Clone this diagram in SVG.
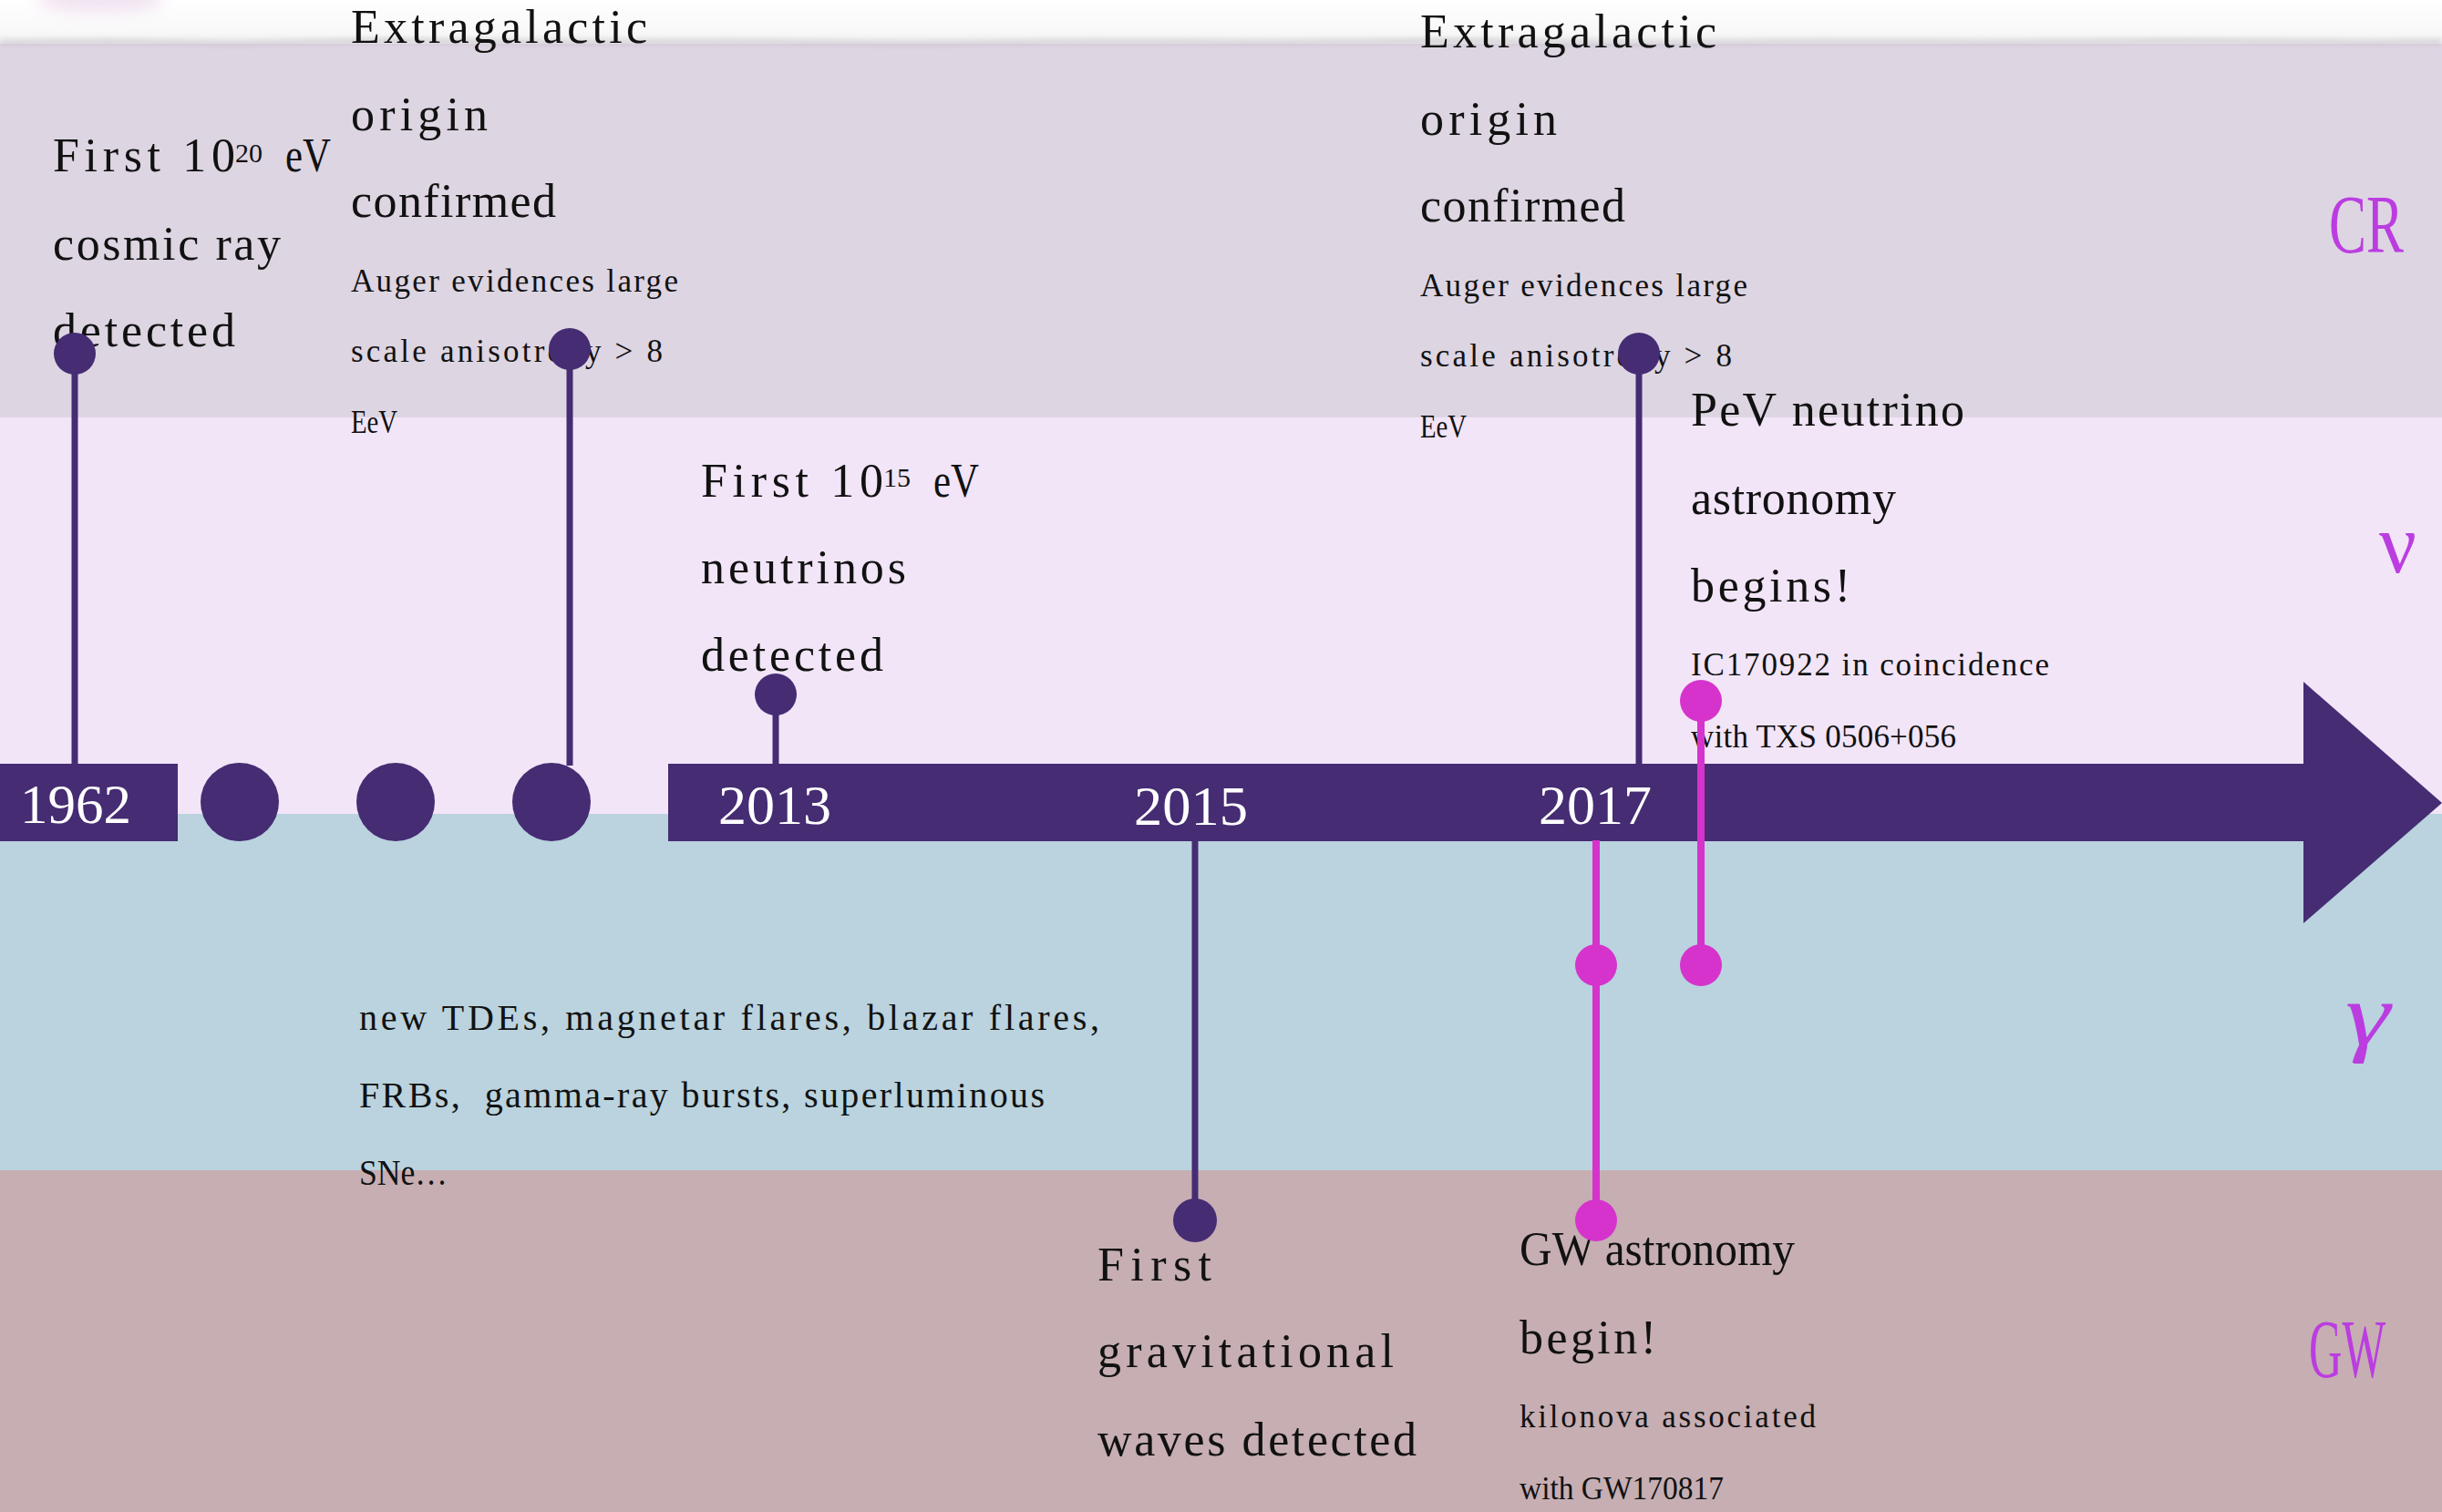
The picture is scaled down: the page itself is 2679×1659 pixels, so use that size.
<svg xmlns="http://www.w3.org/2000/svg" width="2679" height="1659" viewBox="0 0 2679 1659">
<defs>
<linearGradient id="topG" x1="0" y1="0" x2="0" y2="1">
<stop offset="0" stop-color="#ffffff"/>
<stop offset="0.7" stop-color="#f8f8f8"/>
<stop offset="1" stop-color="#ececec"/>
</linearGradient>
<filter id="blur3" x="-20%" y="-200%" width="140%" height="500%"><feGaussianBlur stdDeviation="3"/></filter>
<filter id="blur8" x="-50%" y="-200%" width="200%" height="500%"><feGaussianBlur stdDeviation="8"/></filter>
<style>
.t{font-family:"Liberation Serif","Times New Roman",serif;fill:#111;}
.big{font-size:52px;}
.mid{font-size:40px;}
.sm{font-size:35px;}
.sup{font-size:30px;}
.yr{font-family:"Liberation Serif","Times New Roman",serif;font-size:62px;fill:#ffffff;}
.band{font-family:"Liberation Serif","Times New Roman",serif;fill:#bb3de0;}
.bar{fill:#452c73;}
.pl{stroke:#452c73;stroke-width:7;fill:none;}
.ml{stroke:#d633cc;stroke-width:8;fill:none;}
.pb{fill:#452c73;}
.mb{fill:#d633cc;}
</style>
</defs>

<g id="background">
<rect x="0" y="0" width="2679" height="50" fill="url(#topG)"/>
<ellipse cx="110" cy="0" rx="70" ry="14" fill="#ecd8ec" opacity="0.7" filter="url(#blur8)"/>
<rect x="0" y="48" width="2679" height="410" fill="#ddd5e2"/>
<path d="M0 47 L120 46 L260 48 L420 45 L600 47 L800 46 L1000 48 L1200 46 L1400 47 L1600 45 L1800 48 L2000 46 L2200 47 L2400 45 L2600 47 L2679 46" stroke="#cbc4cd" stroke-width="4" fill="none" filter="url(#blur3)"/>
<rect x="0" y="458" width="2679" height="435" fill="#f2e5f7"/>
<rect x="0" y="893" width="2679" height="391" fill="#bad3df"/>
<rect x="0" y="1284" width="2679" height="375" fill="#c6aeb3"/>
</g>

<g id="band-labels">
<text class="band" x="2555" y="277" font-size="90" textLength="82" lengthAdjust="spacingAndGlyphs">CR</text>
<text class="band" x="2610" y="628" font-size="94" textLength="41" lengthAdjust="spacingAndGlyphs">ν</text>
<text class="band" x="2573" y="1146" font-size="98" font-style="italic" textLength="49" lengthAdjust="spacingAndGlyphs">γ</text>
<text class="band" x="2533" y="1511" font-size="90" textLength="84" lengthAdjust="spacingAndGlyphs">GW</text>
</g>

<g id="timeline">
<rect class="bar" x="0" y="838" width="195" height="85"/>
<circle class="bar" cx="263" cy="880" r="43"/>
<circle class="bar" cx="434" cy="880" r="43"/>
<circle class="bar" cx="605" cy="880" r="43"/>
<rect class="bar" x="733" y="838" width="1796" height="85"/>
<polygon class="bar" points="2527,748 2679,881 2527,1013"/>
<text class="yr" x="22" y="903" textLength="122" lengthAdjust="spacingAndGlyphs">1962</text>
<text class="yr" x="788" y="904" textLength="124" lengthAdjust="spacingAndGlyphs">2013</text>
<text class="yr" x="1244" y="905" textLength="125" lengthAdjust="spacingAndGlyphs">2015</text>
<text class="yr" x="1688" y="904" textLength="124" lengthAdjust="spacingAndGlyphs">2017</text>
</g>

<g id="event-1962-cr">
<text class="t big" x="58" y="188" textLength="200" lengthAdjust="spacing">First 10</text>
<text class="t sup" x="258" y="178" textLength="30" lengthAdjust="spacing">20</text>
<text class="t big" x="313" y="188" textLength="50" lengthAdjust="spacingAndGlyphs">eV</text>
<text class="t big" x="58" y="285" textLength="250" lengthAdjust="spacing">cosmic ray</text>
<text class="t big" x="58" y="380" textLength="200" lengthAdjust="spacing">detected</text>
</g>

<g id="event-auger-1">
<text class="t big" x="385" y="47" textLength="325" lengthAdjust="spacing">Extragalactic</text>
<text class="t big" x="385" y="143" textLength="150" lengthAdjust="spacing">origin</text>
<text class="t big" x="385" y="238" textLength="225" lengthAdjust="spacing">confirmed</text>
<text class="t sm" x="385" y="320" textLength="359" lengthAdjust="spacing">Auger evidences large</text>
<text class="t sm" x="385" y="397" textLength="342" lengthAdjust="spacing">scale anisotropy &gt; 8</text>
<text class="t sm" x="385" y="475" textLength="51" lengthAdjust="spacingAndGlyphs">EeV</text>
</g>

<g id="event-auger-2">
<text class="t big" x="1558" y="52" textLength="325" lengthAdjust="spacing">Extragalactic</text>
<text class="t big" x="1558" y="148" textLength="150" lengthAdjust="spacing">origin</text>
<text class="t big" x="1558" y="243" textLength="225" lengthAdjust="spacing">confirmed</text>
<text class="t sm" x="1558" y="325" textLength="359" lengthAdjust="spacing">Auger evidences large</text>
<text class="t sm" x="1558" y="402" textLength="342" lengthAdjust="spacing">scale anisotropy &gt; 8</text>
<text class="t sm" x="1558" y="480" textLength="51" lengthAdjust="spacingAndGlyphs">EeV</text>
</g>

<g id="event-2013-nu">
<text class="t big" x="769" y="545" textLength="200" lengthAdjust="spacing">First 10</text>
<text class="t sup" x="969" y="534" textLength="30" lengthAdjust="spacing">15</text>
<text class="t big" x="1024" y="545" textLength="50" lengthAdjust="spacingAndGlyphs">eV</text>
<text class="t big" x="769" y="640" textLength="225" lengthAdjust="spacing">neutrinos</text>
<text class="t big" x="769" y="736" textLength="200" lengthAdjust="spacing">detected</text>
</g>

<g id="event-2017-nu">
<text class="t big" x="1855" y="467" textLength="300" lengthAdjust="spacing">PeV neutrino</text>
<text class="t big" x="1855" y="564" textLength="225" lengthAdjust="spacing">astronomy</text>
<text class="t big" x="1855" y="660" textLength="175" lengthAdjust="spacing">begins!</text>
<text class="t sm" x="1855" y="741" textLength="393" lengthAdjust="spacing">IC170922 in coincidence</text>
<text class="t sm" x="1855" y="820" textLength="291" lengthAdjust="spacing">with TXS 0506+056</text>
</g>

<g id="event-gamma">
<text class="t mid" x="394" y="1130" textLength="812" lengthAdjust="spacing">new TDEs, magnetar flares, blazar flares,</text>
<text class="t mid" x="394" y="1215" textLength="752" lengthAdjust="spacing">FRBs,&#160; gamma-ray bursts, superluminous</text>
<text class="t mid" x="394" y="1300" textLength="97" lengthAdjust="spacingAndGlyphs">SNe…</text>
</g>

<g id="event-2015-gw">
<text class="t big" x="1204" y="1405" textLength="125" lengthAdjust="spacing">First</text>
<text class="t big" x="1204" y="1500" textLength="325" lengthAdjust="spacing">gravitational</text>
<text class="t big" x="1204" y="1597" textLength="350" lengthAdjust="spacing">waves detected</text>
</g>

<g id="event-2017-gw">
<text class="t big" x="1667" y="1388" textLength="302" lengthAdjust="spacingAndGlyphs">GW astronomy</text>
<text class="t big" x="1667" y="1485" textLength="150" lengthAdjust="spacing">begin!</text>
<text class="t sm" x="1667" y="1566" textLength="325" lengthAdjust="spacing">kilonova associated</text>
<text class="t sm" x="1667" y="1645" textLength="224" lengthAdjust="spacingAndGlyphs">with GW170817</text>
</g>

<g id="connectors">
<line class="pl" x1="82" y1="388" x2="82" y2="839"/>
<line class="pl" x1="625" y1="383" x2="625" y2="840"/>
<line class="pl" x1="851" y1="762" x2="851" y2="839"/>
<line class="pl" x1="1311" y1="922" x2="1311" y2="1339"/>
<line class="pl" x1="1798" y1="388" x2="1798" y2="839"/>
<circle class="pb" cx="82" cy="388" r="23"/>
<circle class="pb" cx="625" cy="383" r="23"/>
<circle class="pb" cx="851" cy="762" r="23"/>
<circle class="pb" cx="1311" cy="1339" r="24"/>
<circle class="pb" cx="1798" cy="388" r="23"/>
<line class="ml" x1="1751" y1="922" x2="1751" y2="1339"/>
<line class="ml" x1="1866" y1="769" x2="1866" y2="1059"/>
<circle class="mb" cx="1751" cy="1059" r="23"/>
<circle class="mb" cx="1751" cy="1339" r="23"/>
<circle class="mb" cx="1866" cy="769" r="23"/>
<circle class="mb" cx="1866" cy="1059" r="23"/>
</g>
</svg>
